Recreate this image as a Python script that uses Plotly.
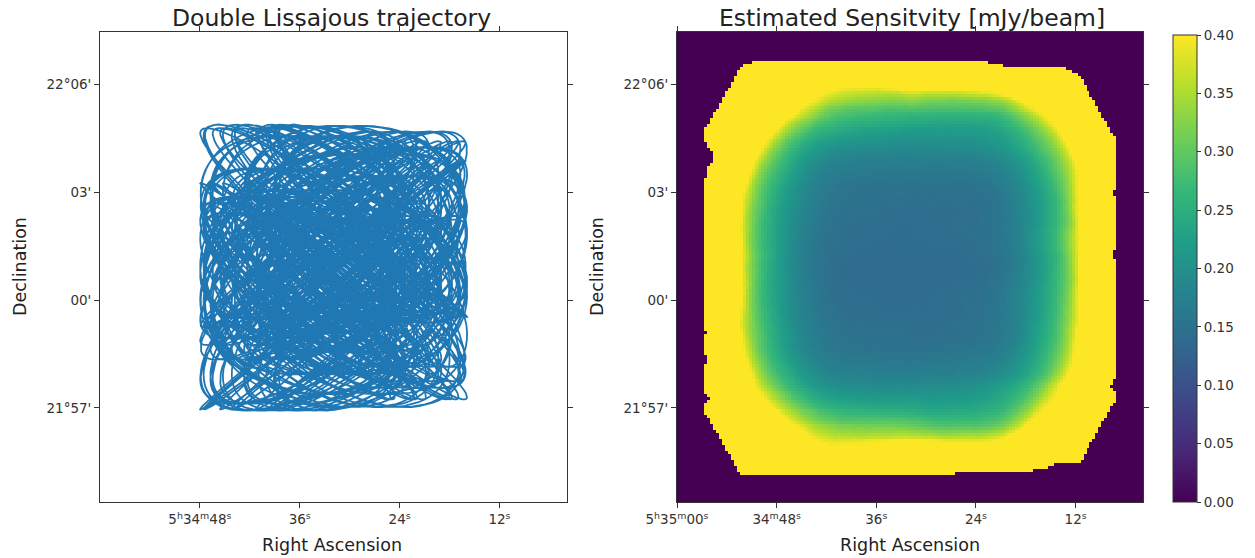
import numpy as np
import plotly.graph_objects as go

# ---------------------------------------------------------------
# Field centre (Crab Nebula)
ra_center_deg = 83.633083      # 5h34m31.94s
dec_center_deg = 22.0150       # +22d00m54s

# Double Lissajous scan: [fast pattern, slow drift pattern]
x_amplitudes_arcmin = [2.62, 1.10]
y_amplitudes_arcmin = [2.66, 1.32]
x_omegas_rad_s = [9.2, 0.46]
y_omegas_rad_s = [8.0, 0.40]
x_phases_rad = [0.785, 0.785]
y_phases_rad = [0.0, 0.0]
scan_duration_s = 150.0
sample_rate_hz = 100.0

# Detector array footprint (hexagon circumradius) and map settings
array_radius_arcmin = 2.05
map_pixel_arcsec = 5.0
map_half_size_arcmin = 7.0
center_sensitivity_mjy = 0.14

# Axis ranges and ticks
ra_range_deg = [83.75, 83.5162]
dec_range_deg = [21.9064, 22.1242]
ra_tickvals_left = [83.70, 83.65, 83.60, 83.55]
ra_ticktext_left = ["5<sup>h</sup>34<sup>m</sup>48<sup>s</sup>", "36<sup>s</sup>",
                    "24<sup>s</sup>", "12<sup>s</sup>"]
ra_tickvals_right = [83.75, 83.70, 83.65, 83.60, 83.55]
ra_ticktext_right = ["5<sup>h</sup>35<sup>m</sup>00<sup>s</sup>", "34<sup>m</sup>48<sup>s</sup>",
                     "36<sup>s</sup>", "24<sup>s</sup>", "12<sup>s</sup>"]
dec_tickvals = [21.95, 22.00, 22.05, 22.10]
dec_ticktext = ["21°57'", "00'", "03'", "22°06'"]
cbar_tickvals = [0.00, 0.05, 0.10, 0.15, 0.20, 0.25, 0.30, 0.35, 0.40]

# ---------------------------------------------------------------
# Telescope boresight track (offsets in arcmin, x positive to the east)
t = np.arange(0.0, scan_duration_s, 1.0 / sample_rate_hz)
dx = sum(a * np.sin(w * t + p) for a, w, p in zip(x_amplitudes_arcmin, x_omegas_rad_s, x_phases_rad))
dy = sum(a * np.sin(w * t + p) for a, w, p in zip(y_amplitudes_arcmin, y_omegas_rad_s, y_phases_rad))

cosd = np.cos(np.radians(dec_center_deg))
ra_track = ra_center_deg + dx / 60.0 / cosd
dec_track = dec_center_deg + dy / 60.0

# ---------------------------------------------------------------
# Coverage map: time per pixel convolved with the array footprint
pix = map_pixel_arcsec / 60.0
n = int(round(2 * map_half_size_arcmin / pix))
edges = np.linspace(-map_half_size_arcmin, map_half_size_arcmin, n + 1)
hits, _, _ = np.histogram2d(dy, dx, bins=[edges, edges])
hits = hits / sample_rate_hz

nk = int(np.ceil(array_radius_arcmin / pix))
k = np.arange(-nk, nk + 1) * pix
kx, ky = np.meshgrid(k, k)
R = array_radius_arcmin
footprint = ((np.abs(ky) <= np.sqrt(3) / 2 * R) &
             (np.abs(ky) <= np.sqrt(3) * (R - np.abs(kx)))).astype(float)

sh = (n + footprint.shape[0] - 1, n + footprint.shape[1] - 1)
conv = np.fft.irfft2(np.fft.rfft2(hits, sh) * np.fft.rfft2(footprint, sh), sh)
coverage = conv[nk:nk + n, nk:nk + n]
observed = coverage > 0.5 / sample_rate_hz

centers = 0.5 * (edges[1:] + edges[:-1])
core = (np.abs(centers)[:, None] < 0.5) & (np.abs(centers)[None, :] < 0.5)
cov_ref = coverage[core].mean()
sens = np.zeros_like(coverage)
sens[observed] = center_sensitivity_mjy * np.sqrt(cov_ref / coverage[observed])

ra_pix = ra_center_deg + centers / 60.0 / cosd
dec_pix = dec_center_deg + centers / 60.0

# ---------------------------------------------------------------
W, H = 1255, 558
font_family = "DejaVu Sans"
ink = "#333333"

fig = go.Figure()
fig.add_trace(go.Scatter(
    x=ra_track, y=dec_track, mode="lines",
    line=dict(color="#1f77b4", width=1.8),
    showlegend=False, hoverinfo="skip", xaxis="x", yaxis="y"))

fig.add_trace(go.Heatmap(
    x=ra_pix, y=dec_pix, z=sens, zmin=0, zmax=0.4,
    colorscale="Viridis", zsmooth=False, xaxis="x2", yaxis="y2",
    colorbar=dict(
        x=1173 / W, xanchor="left", xpad=0,
        y=1 - 268.5 / H, yanchor="middle", ypad=0,
        len=467, lenmode="pixels", thickness=24, thicknessmode="pixels",
        outlinewidth=1, outlinecolor=ink,
        ticks="outside", ticklen=4, tickwidth=1, tickcolor=ink,
        tickvals=cbar_tickvals, ticktext=[f"{v:.2f}" for v in cbar_tickvals],
        tickfont=dict(family=font_family, size=13.5, color=ink))))

axis_common = dict(showline=True, linecolor=ink, linewidth=1, mirror="ticks",
                   ticks="outside", ticklen=5, tickwidth=1, tickcolor=ink,
                   showgrid=False, zeroline=False, automargin=False,
                   tickfont=dict(family=font_family, size=13.5, color=ink))

y_dom = [1 - 502 / H, 1 - 32 / H]
fig.update_layout(
    width=W, height=H,
    margin=dict(l=0, r=0, t=0, b=0, autoexpand=False),
    paper_bgcolor="white", plot_bgcolor="white",
    xaxis=dict(domain=[100 / W, 567 / W], range=ra_range_deg,
               tickvals=ra_tickvals_left, ticktext=ra_ticktext_left, anchor="y", **axis_common),
    yaxis=dict(domain=y_dom, range=dec_range_deg,
               tickvals=dec_tickvals, ticktext=dec_ticktext, anchor="x", **axis_common),
    xaxis2=dict(domain=[677 / W, 1143 / W], range=ra_range_deg,
                tickvals=ra_tickvals_right, ticktext=ra_ticktext_right, anchor="y2", **axis_common),
    yaxis2=dict(domain=y_dom, range=dec_range_deg,
                tickvals=dec_tickvals, ticktext=dec_ticktext, anchor="x2", **axis_common),
)

def label(text, x, y, size, angle=0):
    fig.add_annotation(text=text, x=x / W, y=1 - y / H, xref="paper", yref="paper",
                       xanchor="center", yanchor="middle", showarrow=False, textangle=angle,
                       font=dict(family=font_family, size=size, color="#222222"))

label("Double Lissajous trajectory", 332, 18, 23.5)
label("Estimated Sensitvity [mJy/beam]", 912, 18, 23.5)
label("Right Ascension", 332, 545, 17.5)
label("Right Ascension", 910, 545, 17.5)
label("Declination", 20, 267, 17.5, -90)
label("Declination", 597, 267, 17.5, -90)

fig.write_html("out.html")
